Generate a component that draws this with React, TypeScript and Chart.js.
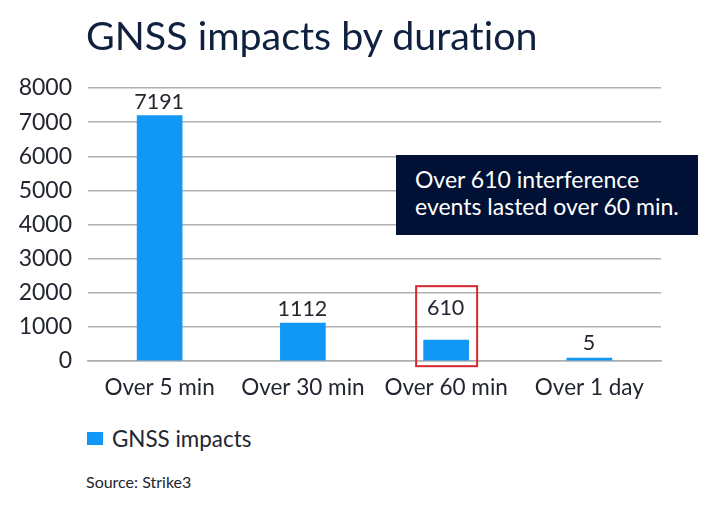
import React, { useEffect, useRef } from "react";
import { Chart, registerables } from "chart.js";

Chart.register(...registerables);

const categories = ["Over 5 min", "Over 30 min", "Over 60 min", "Over 1 day"];
const impacts = [7191, 1112, 610, 5];
const yMax = 8000;
const yStep = 1000;
const seriesName = "GNSS impacts";
const titleText = "GNSS impacts by duration";
const sourceText = "Source: Strike3";
const noteLines = ["Over 610 interference", "events lasted over 60 min."];
const highlightIndex = 2;

const FONT = "Lato, 'Open Sans', sans-serif";
const BLUE = "#1197f5";
const NAVY = "#001135";
const INK = "#222630";

const overlay = {
  id: "overlay",
  afterDatasetsDraw(chart: any) {
    const { ctx, scales } = chart;
    const x = scales.x;
    const y = scales.y;
    ctx.save();
    ctx.font = `21.5px ${FONT}`;
    ctx.fillStyle = INK;
    ctx.textAlign = "center";
    ctx.textBaseline = "alphabetic";
    impacts.forEach((v, i) => {
      const lift = i === highlightIndex ? 25 : v < 100 ? 11 : 7;
      ctx.fillText(String(v), x.getPixelForValue(i) - 0.5, y.getPixelForValue(v) - lift);
    });
    const cx = x.getPixelForValue(highlightIndex);
    const top = y.getPixelForValue(impacts[highlightIndex]);
    ctx.strokeStyle = "#d5282e";
    ctx.lineWidth = 2;
    ctx.strokeRect(cx - 30, top - 54, 61, 80);
    ctx.restore();
  },
};

export default function App() {
  const ref = useRef<HTMLCanvasElement>(null);
  useEffect(() => {
    const chart = new Chart(ref.current!, {
      type: "bar",
      data: {
        labels: categories,
        datasets: [{ label: seriesName, data: impacts, backgroundColor: BLUE, barThickness: 45, minBarLength: 3 }],
      },
      plugins: [overlay],
      options: {
        animation: false,
        responsive: false,
        layout: { padding: { left: 0, right: 59, top: 88, bottom: 0 } },
        plugins: {
          title: { display: false },
          tooltip: { enabled: false },
          legend: { display: false },
        },
        scales: {
          x: {
            afterFit: (s: any) => { s.height = 45; },
            grid: { display: false },
            border: { color: "#adadad", width: 1.5 },
            ticks: { color: INK, font: { family: FONT, size: 22.5 }, padding: 5, maxRotation: 0, autoSkip: false },
          },
          y: {
            min: 0,
            max: yMax,
            afterFit: (s: any) => { s.width = 88; },
            ticks: { stepSize: yStep, color: INK, font: { family: FONT, size: 23 }, padding: 16, callback: (v: any) => String(v) },
            grid: { color: "#b0b0b0", lineWidth: 1.5, drawTicks: false },
            border: { display: false },
          },
        },
      },
    });
    return () => chart.destroy();
  }, []);
  return (
    <div style={{ position: "fixed", left: 0, top: 0, width: 720, height: 506, background: "#fff", fontFamily: FONT, overflow: "hidden" }}>
      <canvas ref={ref} width={720} height={406} style={{ position: "absolute", left: 0, top: 0, display: "block" }} />
      <div style={{ position: "absolute", left: 86, top: 10, fontSize: 39.4, lineHeight: "50px", color: "#10203f", whiteSpace: "nowrap", fontVariantLigatures: "none" }}>{titleText}</div>
      <div style={{ position: "absolute", left: 396, top: 155, width: 302, height: 80, background: NAVY, color: "#fff", fontSize: 23, lineHeight: "27px", paddingLeft: 19, paddingTop: 11, boxSizing: "border-box", whiteSpace: "nowrap" }}>
        {noteLines.map((l) => <div key={l}>{l}</div>)}
      </div>
      <div style={{ position: "absolute", left: 87, top: 432, width: 16, height: 13, background: BLUE }} />
      <div style={{ position: "absolute", left: 112, top: 425, fontSize: 22.4, lineHeight: "28px", color: INK, whiteSpace: "nowrap" }}>{seriesName}</div>
      <div style={{ position: "absolute", left: 86, top: 472, fontSize: 16, lineHeight: "20px", color: INK, whiteSpace: "nowrap" }}>{sourceText}</div>
    </div>
  );
}
